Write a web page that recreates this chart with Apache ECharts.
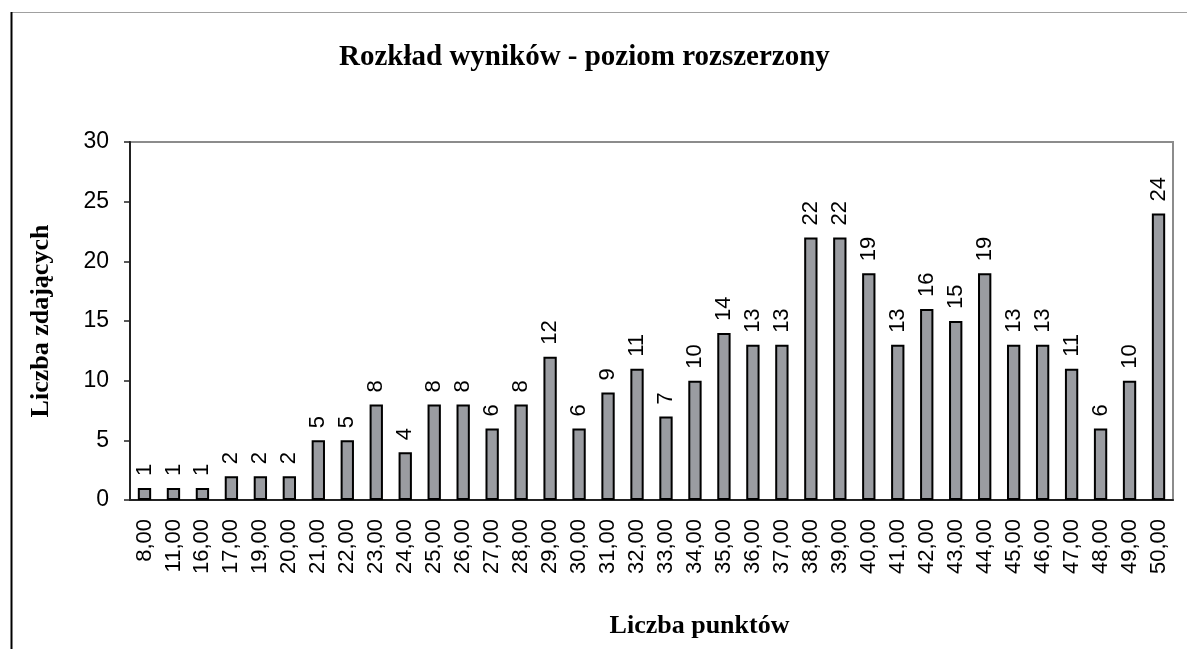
<!DOCTYPE html>
<html>
<head>
<meta charset="utf-8">
<script src="https://cdn.jsdelivr.net/npm/echarts@6/dist/echarts.min.js"></script>
<style>
    html, body { margin: 0; padding: 0; background: #fff; }
    #chart { width: 1187px; height: 649px; }
</style>
</head>
<body>
<div id="chart"></div>
<script>
const categories = ['8,00', '11,00', '16,00', '17,00', '19,00', '20,00', '21,00', '22,00', '23,00', '24,00',
    '25,00', '26,00', '27,00', '28,00', '29,00', '30,00', '31,00', '32,00', '33,00', '34,00',
    '35,00', '36,00', '37,00', '38,00', '39,00', '40,00', '41,00', '42,00', '43,00', '44,00',
    '45,00', '46,00', '47,00', '48,00', '49,00', '50,00'];
const counts = [1, 1, 1, 2, 2, 2, 5, 5, 8, 4,
    8, 8, 6, 8, 12, 6, 9, 11, 7, 10,
    14, 13, 13, 22, 22, 19, 13, 16, 15, 19,
    13, 13, 11, 6, 10, 24];
const yTicks = [0, 5, 10, 15, 20, 25, 30];

const serif = '"Liberation Serif", "DejaVu Serif", serif';
const sans = '"Liberation Sans", Arial, sans-serif';

const myChart = echarts.init(document.getElementById('chart'));

myChart.setOption({
    animation: false,
    backgroundColor: '#fff',
    title: {
        text: 'Rozkład wyników - poziom rozszerzony',
        left: 334,
        top: 38,
        textStyle: { fontFamily: serif, fontWeight: 'bold', fontSize: 29, color: '#000' },
    },
    // frame lines of the original picture
    graphic: [
        { type: 'line', shape: { x1: 11, y1: 12.5, x2: 1187, y2: 12.5 }, style: { stroke: '#a0a0a0', lineWidth: 1 } },
        { type: 'line', shape: { x1: 11.5, y1: 12, x2: 11.5, y2: 649 }, style: { stroke: '#000', lineWidth: 2 } },
    ],
    grid: {
        left: 130,
        right: 14,
        top: 142,
        bottom: 149,
        show: true,
        borderColor: '#8c8c8c',
        borderWidth: 2,
    },
    xAxis: {
        type: 'category',
        data: categories,
        name: 'Liczba punktów',
        nameLocation: 'middle',
        nameGap: 113,
        nameTextStyle: { fontFamily: serif, fontWeight: 'bold', fontSize: 26, color: '#000', padding: [0, 0, 0, 96] },
        axisLine: { lineStyle: { color: '#222', width: 2 } },
        axisTick: { length: 8, lineStyle: { color: '#222', width: 1.5 } },
        axisLabel: {
            rotate: 90,
            margin: 19,
            fontFamily: sans,
            fontSize: 22,
            color: '#000',
        },
    },
    yAxis: {
        type: 'value',
        min: yTicks[0],
        max: yTicks[yTicks.length - 1],
        interval: 5,
        name: 'Liczba zdających',
        nameLocation: 'middle',
        nameGap: 76,
        nameTextStyle: { fontFamily: serif, fontWeight: 'bold', fontSize: 26, color: '#000' },
        axisLine: { show: true, lineStyle: { color: '#222', width: 2 } },
        axisTick: { show: true, length: 6, lineStyle: { color: '#222', width: 1.5 } },
        splitLine: { show: false },
        axisLabel: {
            margin: 21,
            fontFamily: sans,
            fontSize: 23,
            color: '#000',
        },
    },
    series: [
        {
            type: 'bar',
            data: counts,
            barWidth: '46%',
            itemStyle: {
                color: '#9a9ca1', // grey fill
                borderColor: '#000',
                borderWidth: 2,
            },
            label: {
                show: true,
                position: 'top',
                rotate: 90,
                align: 'left',
                verticalAlign: 'middle',
                distance: 12,
                fontFamily: sans,
                fontSize: 22,
                color: '#000',
            },
        },
    ],
});
</script>
</body>
</html>
